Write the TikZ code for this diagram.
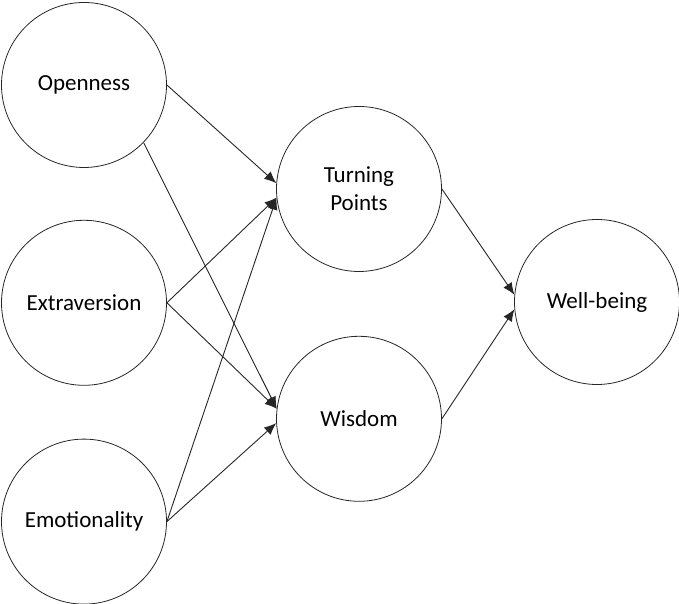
\documentclass[tikz,border=0pt]{standalone}
\usepackage{fontspec}
\setmainfont{Carlito}
\usepackage{tikz}
\usetikzlibrary{positioning,arrows.meta}

\tikzset{
  factor/.style={circle, draw=black!85, line width=0.8pt, minimum size=165pt,
    inner sep=0pt, align=center, font=\fontsize{23}{28}\selectfont},
  path/.style={draw=black!85, line width=0.9pt, -{Latex[length=12pt,width=10pt]}}
}

\begin{document}
\begin{tikzpicture}[x=1pt,y=1pt]
        \useasboundingbox (0,0) rectangle (679,604);
        \node[factor] (open) at (84,519) {Openness};
        \node[factor, below=52pt of open] (extra) {Extraversion};
        \node[factor, below=53pt of extra] (emo) {Emotionality};
        \node[factor] (turn) at (359,415) {Turning\\Points};
        \node[factor, below=64pt of turn] (wis) {Wisdom};
        \node[factor] (well) at (597,302) {Well-being};
        \draw[path] (open.east) -- (turn.176);
        \draw[path] (open.-44) -- (wis.173);
        \draw[path] (extra.east) -- (turn.186);
        \draw[path] (extra.east) -- (wis.173);
        \draw[path] (emo.east) -- (turn.186);
        \draw[path] (emo.east) -- (wis.183);
        \draw[path] (turn.east) -- (well.175);
        \draw[path] (wis.east) -- (well.185);
    \end{tikzpicture}
\end{document}
